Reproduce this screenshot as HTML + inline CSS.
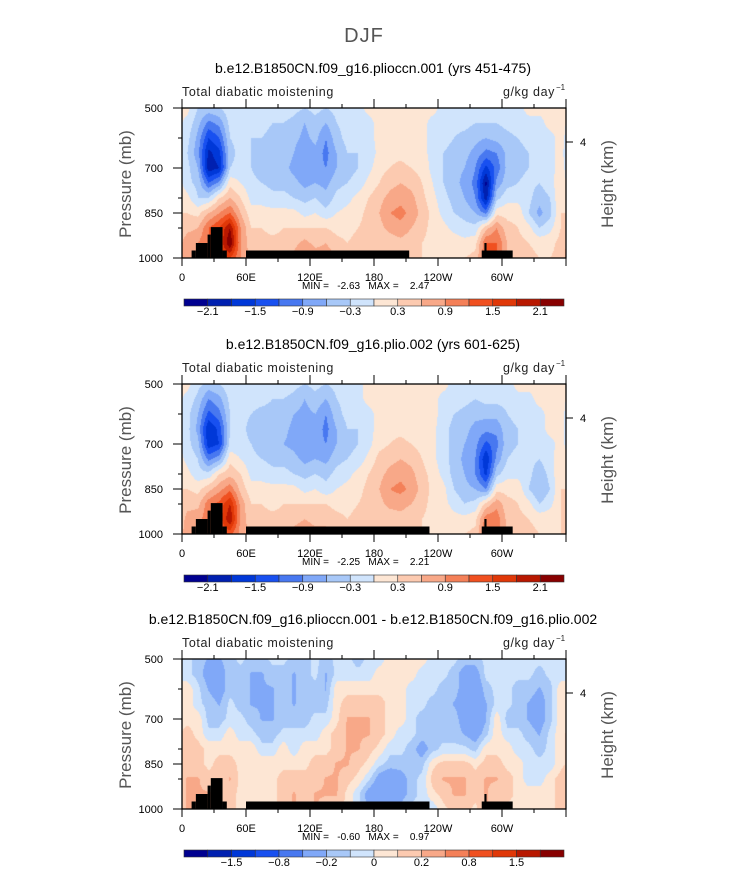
<!DOCTYPE html>
<html><head><meta charset="utf-8">
<style>
body{margin:0;width:733px;height:888px;background:#fff;position:relative;overflow:hidden;font-family:"Liberation Sans",sans-serif}
canvas{position:absolute}
svg{position:absolute;left:0;top:0}
</style></head>
<body>
<script>
// ---- chart data (values on grid: rows 500..1000 mb step 50, columns lon 5..355 step 10) ----
const lonCenters = [5,15,25,35,45,55,65,75,85,95,105,115,125,135,145,155,165,175,185,195,205,215,225,235,245,255,265,275,285,295,305,315,325,335,345,355];
const pressureRows = [500,550,600,650,700,750,800,850,900,950,1000];
const levelsAbs = [-2.1,-1.8,-1.5,-1.2,-0.9,-0.6,-0.3,0,0.3,0.6,0.9,1.2,1.5,1.8,2.1];
const levelsDiff = [-1.8,-1.5,-1.2,-0.8,-0.4,-0.2,-0.1,0,0.1,0.2,0.4,0.8,1.2,1.5,1.8];
const labelsAbs = ["-2.1","-1.5","-0.9","-0.3","0.3","0.9","1.5","2.1"];
const labelsDiff = ["-1.5","-0.8","-0.2","0","0.2","0.8","1.5"];
const xTickLabels = ["0","60E","120E","180","120W","60W"];
const yTickLabels = ["500","700","850","1000"];
const colors = ["#000090","#0020b0","#0038d8","#1850f0","#4878f0","#80a8f8","#a8c8f8","#d0e4fc","#fde6d4","#fccab0","#f8a888","#f48058","#f05020","#e03808","#b81800","#880000"];
// panel 1 (units 0.1 g/kg/day), one row per longitude column, 500->1000 mb
const field1 = [
[1,-1,-2,-3,-2,-2,1,3,5,8,9],[-3,-5,-7,-8,-6,-4,-3,2,6,9,9],[-4,-10,-15,-19,-20,-12,-3,6,12,12,12],[-3,-8,-12,-16,-18,-8,3,9,15,15,15],
[-1,-2,-3,-4,-3,2,6,12,21,24,15],[0,-1,-2,-2,-2,0,3,6,9,9,9],[-1,-2,-3,-3,-3,-2,-1,1,3,4,5],[-1,-2,-3,-4,-5,-3,-1,1,3,4,5],
[-1,-3,-4,-5,-6,-4,-2,1,2,4,5],[-1,-3,-3,-4,-5,-4,-2,1,3,4,6],[-2,-4,-5,-6,-7,-5,-3,1,3,5,7],[-3,-6,-7,-9,-9,-7,-4,-1,3,7,10],
[-2,-4,-5,-7,-8,-6,-3,0,3,5,8],[-3,-6,-9,-10,-9,-7,-5,-2,3,6,8],[-2,-3,-4,-6,-6,-4,-2,0,2,4,6],[-1,-2,-2,-3,-4,-3,-1,1,2,3,4],
[-1,-2,-2,-3,-3,-2,1,2,3,4,4],[1,-1,-1,-2,-1,1,3,4,4,4,4],[1,1,1,1,2,3,5,6,5,4,4],[1,1,1,2,3,5,7,9,7,4,4],
[1,1,1,2,4,6,8,10,8,5,4],[1,1,1,1,3,5,7,8,6,4,4],[1,1,1,1,2,3,4,5,4,3,3],[1,-1,-1,-1,-1,0,1,2,2,2,3],
[-1,-1,-2,-3,-3,-3,-2,-1,1,2,3],[-1,-2,-3,-4,-5,-5,-4,-3,-1,2,3],[-1,-2,-4,-5,-6,-7,-6,-4,-2,1,3],[-1,-3,-5,-7,-9,-10,-9,-6,-2,2,4],
[-1,-3,-6,-10,-16,-22,-20,-10,5,12,12],[-1,-3,-5,-9,-11,-8,-4,2,9,12,12],[-1,-2,-4,-5,-5,-4,-1,2,4,6,6],[-1,-1,-3,-4,-4,-3,-1,2,3,4,5],
[1,-1,-2,-3,-3,-2,-2,-3,1,3,4],[1,-1,-1,-2,-2,-3,-5,-7,-3,2,3],[1,1,-1,-1,-1,-1,-3,-4,-1,2,3],[1,1,1,1,1,2,3,3,3,4,4]];
// panel 2 (units 0.1 g/kg/day)
const field2 = [
[1,-1,-2,-2,-2,-1,1,3,5,7,8],[-2,-4,-6,-7,-5,-3,-2,2,5,8,8],[-4,-9,-13,-18,-17,-10,-2,5,11,11,11],[-3,-7,-10,-14,-15,-7,3,8,13,13,13],
[-1,-2,-3,-3,-2,2,5,11,18,21,13],[0,-1,-2,-2,-2,0,3,5,8,8,8],[-1,-2,-3,-4,-3,-2,-1,1,3,4,5],[-1,-2,-4,-5,-5,-3,-1,1,3,4,5],
[-1,-3,-4,-5,-6,-4,-2,1,2,4,5],[-1,-3,-4,-5,-6,-4,-2,1,3,4,6],[-2,-4,-6,-7,-7,-5,-3,1,3,5,7],[-3,-6,-7,-9,-9,-7,-4,-1,3,6,8],
[-2,-4,-6,-7,-8,-6,-3,0,3,5,7],[-3,-6,-9,-10,-9,-7,-4,-2,3,5,7],[-2,-3,-4,-6,-6,-4,-2,0,2,4,5],[-1,-2,-2,-3,-4,-3,-1,1,2,3,4],
[-1,-1,-2,-3,-3,-2,1,2,3,4,4],[1,1,-1,-1,-1,1,3,4,4,4,4],[1,1,1,1,2,4,5,6,5,4,4],[1,1,1,2,3,5,7,9,7,4,4],
[1,1,1,2,4,6,8,10,7,5,4],[1,1,1,1,3,5,7,8,6,4,3],[1,1,1,1,2,3,4,5,4,3,3],[1,1,1,1,1,1,2,2,2,2,2],
[1,-1,-1,-2,-2,-2,-1,1,1,2,2],[-1,-1,-3,-4,-4,-4,-4,-3,-1,1,2],[-1,-2,-4,-5,-6,-7,-6,-5,-3,1,3],[-1,-3,-5,-7,-8,-9,-9,-6,-2,2,4],
[-1,-2,-5,-8,-13,-18,-16,-9,4,11,11],[-1,-2,-5,-8,-10,-8,-4,2,8,11,11],[-1,-2,-3,-4,-4,-3,-1,2,4,5,5],[1,-1,-2,-3,-3,-2,-1,2,3,4,4],
[1,-1,-1,-2,-2,-2,-2,-3,1,3,4],[1,1,-1,-1,-2,-3,-5,-6,-3,2,3],[1,1,1,1,-1,-1,-2,-3,-1,2,3],[1,1,1,1,1,2,3,3,3,3,3]];
// panel 3 difference (units 0.07 g/kg/day)
const field3 = [
[-1,-1,1,1,1,2,2,2,3,3,3],[-2,-2,-1,-1,1,1,2,2,3,3,3],[-3,-4,-3,-2,-2,-1,1,1,2,3,3],[-3,-4,-4,-3,-2,-1,1,2,2,3,3],
[-2,-2,-2,-1,-1,1,1,2,3,2,2],[-1,-2,-2,-2,-1,-1,1,1,1,1,1],[-2,-3,-3,-3,-2,-1,1,1,1,1,1],[-2,-3,-3,-3,-3,-2,-1,1,1,1,1],
[-1,-2,-3,-3,-3,-2,-1,1,1,1,1],[-1,-2,-2,-2,-2,-1,1,1,2,2,2],[-2,-3,-3,-3,-2,-1,-1,1,2,3,3],[-2,-2,-2,-2,-2,-1,1,1,2,2,2],
[-1,-1,-2,-2,-1,-1,1,2,2,3,3],[-2,-3,-3,-2,-1,1,1,2,3,3,2],[-1,-1,1,1,1,2,2,3,3,3,2],[-1,-1,1,2,3,3,3,3,2,1,1],
[-2,-1,1,2,3,3,3,2,1,-1,-1],[-1,-1,1,2,3,3,2,1,-1,-4,-3],[-1,1,1,2,2,2,1,-1,-4,-5,-3],[1,1,1,1,1,1,-1,-2,-5,-5,-3],
[1,1,1,1,1,-1,-1,-2,-4,-4,-2],[1,1,-1,-1,-1,-1,-2,-2,-2,-2,-1],[1,-1,-1,-1,-2,-2,-4,-2,-1,-1,-1],[-1,-1,-1,-2,-2,-2,-2,1,2,1,-1],
[-1,-1,-2,-2,-2,-2,-1,2,3,2,1],[-1,-2,-2,-3,-2,-2,-1,2,3,3,2],[-2,-4,-4,-4,-4,-3,-1,2,3,3,2],[-2,-4,-5,-5,-5,-4,-2,1,2,2,1],
[-1,-1,-2,-3,-3,-2,1,2,3,3,3],[-1,-1,-1,-1,1,1,1,2,3,2,2],[-1,-1,-1,-1,-2,-1,1,1,2,2,1],[-1,-1,-2,-2,-2,-1,-1,1,1,1,1],
[-1,-1,-2,-3,-3,-2,-1,-1,-1,1,1],[-1,-2,-3,-4,-4,-3,-2,-1,-1,1,1],[-1,-1,-2,-2,-2,-1,-1,-1,1,1,1],[-1,-1,1,1,1,1,1,1,2,2,2]];
// orography blocks [lon0, lon1, top pressure]
const oroA = [[9,13,975],[13,24,950],[24,27,922],[27,38,897],[38,42,975],[60,213,975],[281,310,975],[283.5,285.5,950]];
const oroB = [[9,13,975],[13,24,950],[24,27,922],[27,38,897],[38,42,975],[60,232,975],[281,310,975],[283.5,285.5,950]];

const NS="http://www.w3.org/2000/svg";
const BX=182, BW=384, BH=150;
const panels=[
 {top:108, title:"b.e12.B1850CN.f09_g16.plioccn.001 (yrs 451-475)", data:field1, unit:0.1, levels:levelsAbs, labels:labelsAbs, labIdx:[1,3,5,7,9,11,13,15], cb:299, mm:"MIN =   -2.63   MAX =    2.47", oro:oroA},
 {top:384, title:"b.e12.B1850CN.f09_g16.plio.002 (yrs 601-625)", data:field2, unit:0.1, levels:levelsAbs, labels:labelsAbs, labIdx:[1,3,5,7,9,11,13,15], cb:575, mm:"MIN =   -2.25   MAX =    2.21", oro:oroB},
 {top:659, title:"b.e12.B1850CN.f09_g16.plioccn.001 - b.e12.B1850CN.f09_g16.plio.002", data:field3, unit:0.07, levels:levelsDiff, labels:labelsDiff, labIdx:[2,4,6,8,10,12,14], cb:850, mm:"MIN =   -0.60   MAX =    0.97", oro:oroB}
];
const svg=document.createElementNS(NS,"svg");
svg.setAttribute("width","733");svg.setAttribute("height","888");


function el(tag,attrs,parent){const e=document.createElementNS(NS,tag);for(const k in attrs)e.setAttribute(k,attrs[k]);(parent||svg).appendChild(e);return e;}
function txt(s,x,y,size,anchor,fill,parent,extra){const t=el("text",Object.assign({x:x,y:y,"font-size":size,"text-anchor":anchor||"start",fill:fill||"#000","font-family":"Liberation Sans, sans-serif"},extra||{}),parent);t.textContent=s;return t;}
const xOf=lon=>BX+lon*BW/360;
function binOf(v,levels){let i=0;while(i<levels.length&&v>=levels[i])i++;return i;}

const djf=txt("DJF",364,42,20,"middle","#555",svg,{"letter-spacing":"1"});



panels.forEach((P,pi)=>{
  const yOf=p=>P.top+(p-500)/500*BH;
  const cv=document.createElement("canvas");cv.width=BW;cv.height=BH;
  cv.style.left=BX+"px";cv.style.top=P.top+"px";
  
  
  document.body.appendChild(cv);
  const ctx=cv.getContext("2d");const img=ctx.createImageData(BW,BH);
  const rgb=colors.map(c=>[parseInt(c.slice(1,3),16),parseInt(c.slice(3,5),16),parseInt(c.slice(5,7),16)]);
  const nc=lonCenters.length, nr=pressureRows.length;
  for(let py=0;py<BH;py++){
    const p=500+(py+0.5)/BH*500;
    let r=(p-pressureRows[0])/(pressureRows[1]-pressureRows[0]);r=Math.max(0,Math.min(nr-1.0001,r));
    const r0=Math.floor(r),fr=r-r0;
    for(let px=0;px<BW;px++){
      const lon=(px+0.5)*360/BW;
      let c=(lon-lonCenters[0])/(lonCenters[1]-lonCenters[0]);
      let c0=Math.floor(c),fc=c-c0;const ca=((c0%nc)+nc)%nc,cb=(ca+1)%nc;
      const v=(P.data[ca][r0]*(1-fc)+P.data[cb][r0]*fc)*(1-fr)+(P.data[ca][r0+1]*(1-fc)+P.data[cb][r0+1]*fc)*fr;
      const col=rgb[binOf(v*P.unit,P.levels)];
      const o=(py*BW+px)*4;img.data[o]=col[0];img.data[o+1]=col[1];img.data[o+2]=col[2];img.data[o+3]=255;
    }
  }
  ctx.putImageData(img,0,0);

  const g=el("g",{});
  
  
  P.oro.forEach(o=>{const r=el("rect",{x:xOf(o[0]),y:yOf(o[2]),width:xOf(o[1])-xOf(o[0]),height:yOf(1000)-yOf(o[2]),fill:"#000"},g);
    
    });
  const box=el("rect",{x:BX,y:P.top,width:BW,height:BH,fill:"none",stroke:"#000","stroke-width":1.3},g);
  
  
  for(let lon=0;lon<=360;lon+=30){const x=xOf(lon),maj=lon%60===0;
    el("line",{x1:x,x2:x,y1:P.top+BH,y2:P.top+BH+(maj?8:4),stroke:"#000","stroke-width":1},g);
    el("line",{x1:x,x2:x,y1:P.top,y2:P.top-(maj?9:4),stroke:"#000","stroke-width":1},g);}
  xTickLabels.forEach((s,i)=>{const t=txt(s,xOf(i*60),P.top+BH+23,11,"middle","#000",g);
    
    });
  yTickLabels.forEach(s=>{const y=yOf(+s);el("line",{x1:BX-9,x2:BX,y1:y,y2:y,stroke:"#000"},g);
    const t=txt(s,163,y+4,11,"end","#000",g);
    
    });
  [600,800,900].forEach(p=>el("line",{x1:BX-4,x2:BX,y1:yOf(p),y2:yOf(p),stroke:"#000"},g));
  el("line",{x1:BX+BW,x2:BX+BW+7,y1:P.top+34,y2:P.top+34,stroke:"#000"},g);
  txt("4",583,P.top+38,11,"middle","#000",g);
  const yt=txt("Pressure (mb)",0,0,17,"middle","#555",g,{transform:`translate(131,${P.top+76}) rotate(-90)`});
  
  
  const ht=txt("Height (km)",0,0,17,"middle","#555",g,{transform:`translate(613,${P.top+76}) rotate(-90)`});
  
  
  const tt=txt(P.title,373,P.top-35,14,"middle","#000",g);
  
  
  const lt=txt("Total diabatic moistening",182,P.top-12,12.5,"start","#222",g,{"letter-spacing":"0.6"});
  
  
  const ut=txt("g/kg day",555,P.top-12,12.5,"end","#222",g,{"letter-spacing":"0.6"});
  
  
  txt("−1",556,P.top-18,8,"start","#222",g);
  const mm=txt(P.mm,302,P.top+BH+31,10,"start","#000",g,{style:"white-space:pre"});
  
  
  const cbw=(564-184)/colors.length;
  colors.forEach((c,i)=>{const r=el("rect",{x:184+i*cbw,y:P.cb,width:cbw,height:7,fill:c,stroke:"#333","stroke-width":0.6},g);
    
    });
  P.labels.forEach((s,i)=>{const t=txt(s.replace("-","−"),184+P.labIdx[i]*cbw,P.cb+16,11,"middle","#000",g);
    
    });
});
document.body.appendChild(svg);
</script>
</body></html>
